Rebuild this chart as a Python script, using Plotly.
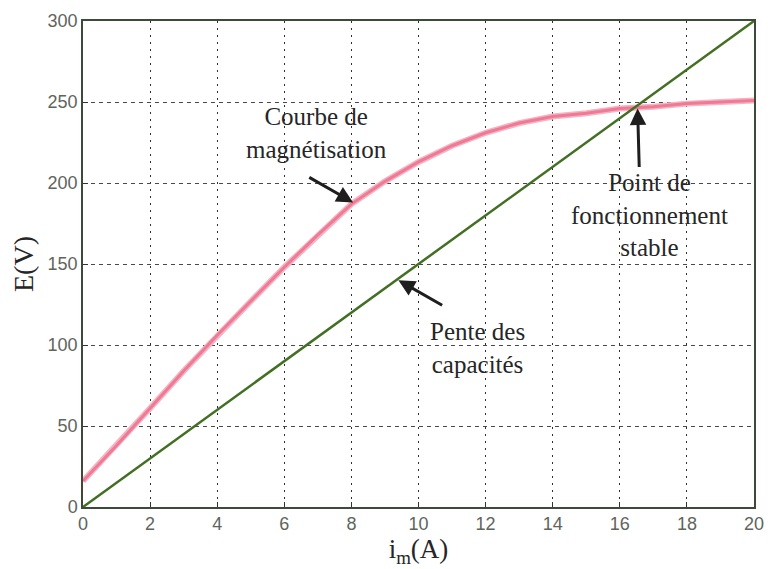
import plotly.graph_objects as go

# Magnetization curve E(i_m) of the self-excited machine
i_mag = [0, 1, 2, 3, 4, 5, 6, 7, 8, 9, 10, 11, 12, 13, 14, 15, 16, 17, 18, 19, 20]
E_mag = [16, 38, 61, 84, 106, 127, 148, 168, 187, 201, 213, 223, 231, 237, 241, 243, 246, 247, 249, 250, 251]

# Capacitor load line (slope of the capacitors)
i_cap = [0, 20]
E_cap = [0, 300]

x_ticks = [0, 2, 4, 6, 8, 10, 12, 14, 16, 18, 20]
y_ticks = [0, 50, 100, 150, 200, 250, 300]

serif = "Liberation Serif, Times New Roman, serif"
sans = "Liberation Sans, Arial, sans-serif"

fig = go.Figure()

# pink magnetization curve: soft halo plus stronger core
fig.add_trace(go.Scatter(x=i_mag, y=E_mag, mode="lines", line=dict(color="#f6b3c2", width=6),
                         hoverinfo="skip", showlegend=False))
fig.add_trace(go.Scatter(x=i_mag, y=E_mag, mode="lines", line=dict(color="#ee7a95", width=3),
                         showlegend=False))
# green capacitor line
fig.add_trace(go.Scatter(x=i_cap, y=E_cap, mode="lines", line=dict(color="#436f24", width=2.5),
                         showlegend=False))

text_font = dict(family=serif, size=25, color="#262626")

labels = [
    (6.95, 231, "Courbe de<br>magnétisation"),
    (11.75, 98, "Pente des<br>capacités"),
    (16.9, 180, "Point de<br>fonctionnement<br>stable"),
]
for x, y, t in labels:
    fig.add_annotation(x=x, y=y, text=t, showarrow=False, font=text_font, align="center")

# arrows: (head x, head y, tail x, tail y)
arrows = [
    (8.05, 188, 6.7, 204),
    (9.4, 140, 10.75, 124),
    (16.53, 246, 16.58, 209),
]
for hx, hy, tx, ty in arrows:
    fig.add_annotation(x=hx, y=hy, ax=tx, ay=ty, axref="x", ayref="y", xref="x", yref="y",
                       text="", showarrow=True, arrowhead=2, arrowsize=1.1, arrowwidth=3,
                       arrowcolor="#1e1e1e")

fig.update_xaxes(
    range=[0, 20], tickvals=x_ticks, ticktext=[str(v) for v in x_ticks],
    showgrid=True, gridcolor="#2e2e2e", gridwidth=1, griddash="2px,5px",
    showline=True, linecolor="#3c4a3a", linewidth=1.5, mirror=True,
    ticks="inside", ticklen=5, tickcolor="#333333",
    tickfont=dict(family=sans, size=18, color="#5e655c"),
    zeroline=False,
    title=dict(text="i<sub>m</sub>(A)", font=dict(family=serif, size=27, color="#262626"), standoff=5),
)
fig.update_yaxes(
    range=[0, 300], tickvals=y_ticks, ticktext=[str(v) for v in y_ticks],
    showgrid=True, gridcolor="#4a4a4a", gridwidth=1, griddash="4px,4px",
    showline=True, linecolor="#3c4a3a", linewidth=1.5, mirror=True,
    ticks="inside", ticklen=5, tickcolor="#333333",
    tickfont=dict(family=sans, size=18, color="#5e655c"),
    zeroline=False,
    title=dict(text="E(V)", font=dict(family=serif, size=28, color="#262626"), standoff=6),
)

fig.update_layout(
    width=775, height=569,
    margin=dict(l=83, r=11, t=19, b=62),
    paper_bgcolor="white", plot_bgcolor="white",
    showlegend=False,
)

fig.write_html("out.html")
